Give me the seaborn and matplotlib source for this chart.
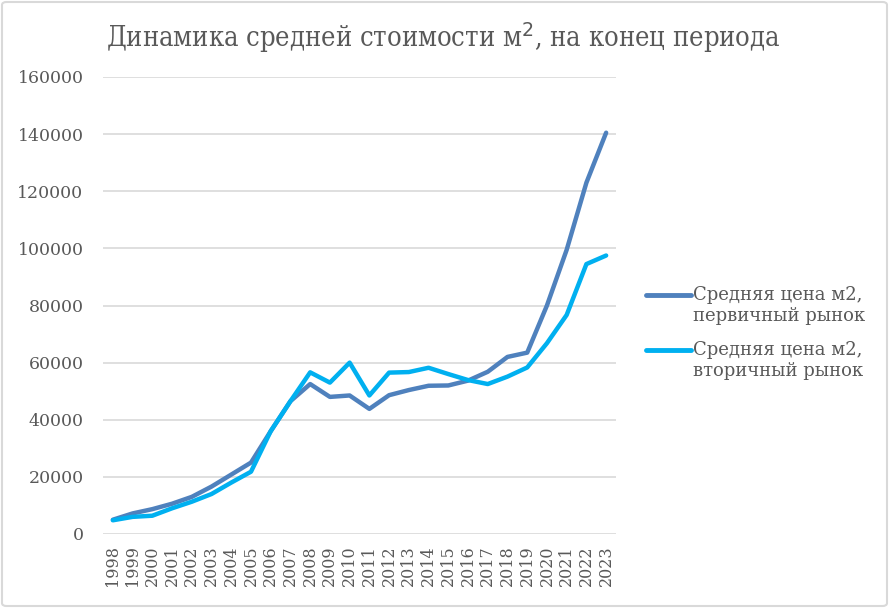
import matplotlib
matplotlib.use("Agg")
import matplotlib.pyplot as plt
import seaborn as sns
import pandas as pd
from matplotlib.patches import FancyBboxPatch
from matplotlib.legend_handler import HandlerLine2D

years = [str(y) for y in range(1998, 2024)]
primary = [5000, 7200, 8700, 10600, 13000, 16600, 20800, 25000, 36000, 46500,
           52500, 48000, 48500, 43800, 48600, 50400, 51900, 52000, 53700, 56800,
           62000, 63500, 80000, 99500, 123000, 140500]
secondary = [4800, 6000, 6400, 9000, 11300, 14000, 18000, 21800, 36000, 46500,
             56600, 53000, 60000, 48500, 56500, 56700, 58200, 56000, 53900, 52500,
             55100, 58300, 66800, 76700, 94500, 97500]
series_names = ["Средняя цена м2,\nпервичный рынок", "Средняя цена м2,\nвторичный рынок"]
title = "Динамика средней стоимости м$^2$, на конец периода"
yticks = list(range(0, 160001, 20000))

df = pd.DataFrame({
    "year": years * 2,
    "idx": list(range(len(years))) * 2,
    "value": primary + secondary,
    "series": [series_names[0]] * len(years) + [series_names[1]] * len(years),
})

sns.set_theme(style="white")
plt.rcParams["font.family"] = ["DejaVu Serif"]
txt = "#595959"
LEG_FS = 13


class TopHandler(HandlerLine2D):
    def create_artists(self, legend, orig_handle, xdescent, ydescent,
                       width, height, fontsize, trans):
        arts = super().create_artists(legend, orig_handle, xdescent, ydescent,
                                      width, height, fontsize, trans)
        for a in arts:
            yd = a.get_ydata()
            a.set_ydata([y + 0.62 * fontsize for y in yd])
        return arts


fig = plt.figure(figsize=(8.89, 6.08), dpi=100)
ax = fig.add_axes([103/889, 1-534/608, (616-103)/889, (534-77)/608])

sns.lineplot(data=df, x="idx", y="value", hue="series", ax=ax,
             palette=["#4F81BD", "#00B0F0"], linewidth=3.2, legend=True,
             solid_capstyle="round", solid_joinstyle="round")

ax.set_xlim(-0.5, len(years) - 0.5)
ax.set_ylim(0, 160000)
ax.set_yticks(yticks)
ax.set_yticklabels([str(v) for v in yticks], fontsize=12.5, color=txt)
ax.set_xticks(range(len(years)))
ax.set_xticklabels(years, rotation=90, fontsize=11.5, color=txt)
ax.tick_params(axis="both", length=0, pad=8)
ax.tick_params(axis="y", pad=14)
ax.set_xlabel("")
ax.set_ylabel("")
for s in ax.spines.values():
    s.set_visible(False)
ax.yaxis.grid(True, color="#D9D9D9", linewidth=1.2)
ax.set_axisbelow(True)

handles, labels = ax.get_legend_handles_labels()
leg = ax.legend(handles, labels, loc="center left", bbox_to_anchor=(1.027, 0.44),
                frameon=False, fontsize=LEG_FS, handlelength=2.5, handletextpad=0.1,
                labelspacing=0.9, labelcolor=txt,
                handler_map={h: TopHandler() for h in handles})
for h in leg.get_lines():
    h.set_linewidth(3.5)
    h.set_solid_capstyle("round")

fig.text(443/889, 1 - 38/608, title, ha="center", va="center", fontsize=19.5,
         color=txt, fontstretch="condensed")

border = FancyBboxPatch((2/889, 2/608), 1 - 4/889, 1 - 4/608,
                        boxstyle="round,pad=0,rounding_size=0.005",
                        transform=fig.transFigure, fill=False,
                        edgecolor="#D9D9D9", linewidth=1.5)
fig.patches.append(border)

fig.savefig("out.png", dpi=100)
